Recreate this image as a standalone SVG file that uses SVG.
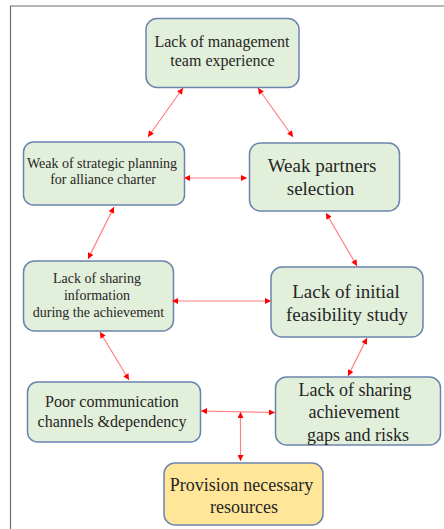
<svg xmlns="http://www.w3.org/2000/svg" width="444" height="529" viewBox="0 0 444 529">
  <defs>
    <marker id="ah" viewBox="0 0 10 10" refX="10" refY="5" markerWidth="7" markerHeight="6" markerUnits="userSpaceOnUse" orient="auto-start-reverse">
      <path d="M0,0 L10,5 L0,10 Z" fill="#ff0000"/>
    </marker>
  </defs>
  <style>
    .box { fill: #e2efda; stroke: #6b84ae; stroke-width: 1.5; }
    .box-y { fill: #ffe699; stroke: #6b84ae; stroke-width: 1.5; }
    .t { font-family: "Liberation Serif", "Times New Roman", serif; fill: #262626; text-anchor: middle; }
    .link { stroke: #ff8080; stroke-width: 1.2; fill: none; marker-start: url(#ah); marker-end: url(#ah); }
    .frame { stroke: #6e6e6e; stroke-width: 1.2; fill: none; }
  </style>
  <rect width="444" height="529" fill="#ffffff"/>
  <path class="frame" d="M10.5,529 V6 H444"/>

  <g id="n-management">
    <rect class="box" x="146" y="18.5" width="153" height="69" rx="11"/>
    <text class="t" font-size="16" x="222" y="47">Lack  of management</text>
    <text class="t" font-size="16" x="222.5" y="66">team experience</text>
  </g>

  <g id="n-strategic">
    <rect class="box" x="23.5" y="142" width="161" height="63" rx="10"/>
    <text class="t" font-size="14" x="102" y="168">Weak of strategic planning</text>
    <text class="t" font-size="14" x="103" y="184">for alliance  charter</text>
  </g>

  <g id="n-partners">
    <rect class="box" x="249.5" y="143" width="150" height="68" rx="11"/>
    <text class="t" font-size="19" x="322" y="172">Weak  partners</text>
    <text class="t" font-size="19" x="320.5" y="195">selection</text>
  </g>

  <g id="n-sharing-info">
    <rect class="box" x="23.5" y="261" width="150" height="70" rx="11"/>
    <text class="t" font-size="14" x="97" y="283">Lack  of sharing</text>
    <text class="t" font-size="14" x="97" y="300">information</text>
    <text class="t" font-size="14" x="98.5" y="317">during the achievement</text>
  </g>

  <g id="n-feasibility">
    <rect class="box" x="271" y="267" width="152" height="70" rx="11"/>
    <text class="t" font-size="19" x="346" y="298">Lack  of initial</text>
    <text class="t" font-size="19" x="347" y="321">feasibility  study</text>
  </g>

  <g id="n-communication">
    <rect class="box" x="27.5" y="382" width="173" height="60" rx="10"/>
    <text class="t" font-size="16" x="112" y="407">Poor communication</text>
    <text class="t" font-size="16" x="112" y="427">channels  &amp;dependency</text>
  </g>

  <g id="n-gaps">
    <rect class="box" x="275.5" y="377" width="165" height="68" rx="11"/>
    <text class="t" font-size="18" x="355" y="396">Lack of sharing</text>
    <text class="t" font-size="18" x="354" y="418">achievement</text>
    <text class="t" font-size="18" x="358" y="441">gaps and risks</text>
  </g>

  <g id="n-resources">
    <rect class="box-y" x="164" y="463" width="159" height="62" rx="11"/>
    <text class="t" font-size="18" x="241.5" y="491">Provision  necessary</text>
    <text class="t" font-size="18" x="244" y="513">resources</text>
  </g>

  <g id="connectors">
    <line class="link" x1="183" y1="88" x2="148" y2="137"/>
    <line class="link" x1="258" y1="88" x2="293" y2="137"/>
    <line class="link" x1="184" y1="178" x2="247" y2="178"/>
    <line class="link" x1="114" y1="207" x2="88" y2="259"/>
    <line class="link" x1="326" y1="213" x2="357" y2="266"/>
    <line class="link" x1="172" y1="301" x2="271" y2="301"/>
    <line class="link" x1="100" y1="332" x2="129" y2="380"/>
    <line class="link" x1="367" y1="338" x2="348" y2="376"/>
    <line class="link" x1="201" y1="411" x2="275" y2="412.5"/>
    <line class="link" x1="240.5" y1="412" x2="240.5" y2="461"/>
  </g>
</svg>
